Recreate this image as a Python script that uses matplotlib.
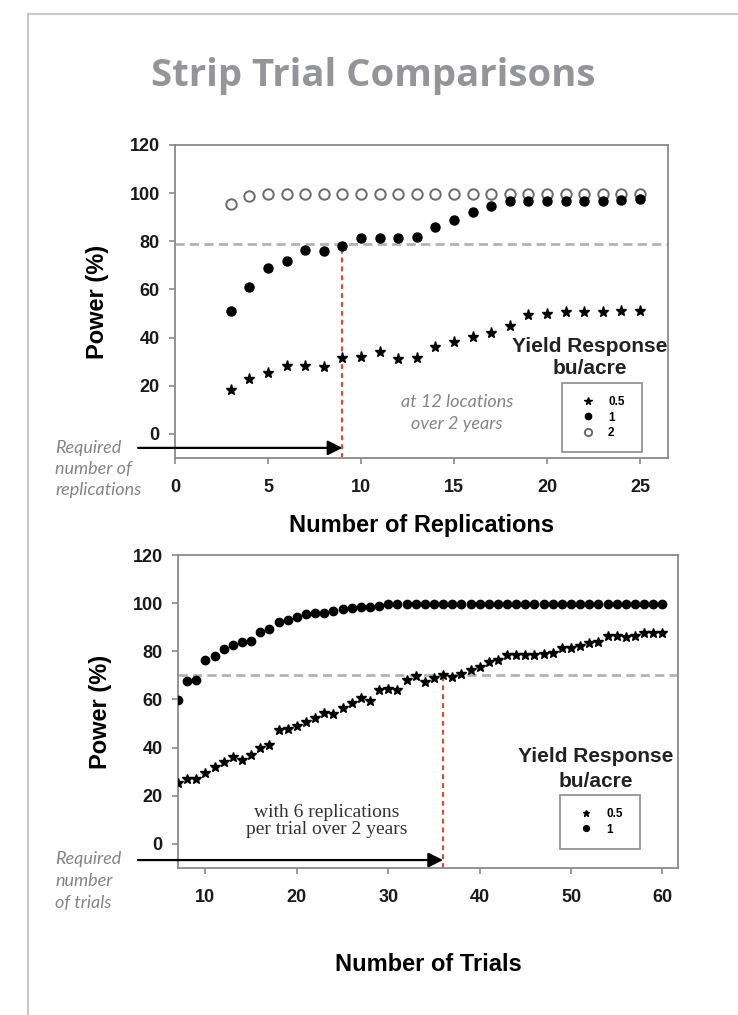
import matplotlib
matplotlib.use("Agg")
import matplotlib.pyplot as plt
from matplotlib.lines import Line2D

# ---------------- data ----------------
reps = list(range(3, 26))
rep_power_05 = [18.3, 22.7, 25.5, 28.2, 28.2, 27.7, 31.4, 31.8, 33.9, 31.0, 31.7,
                36.3, 38.3, 40.1, 41.8, 44.9, 49.4, 49.7, 50.5, 50.5, 50.5, 51.2, 51.2]
rep_power_1 = [51.2, 60.9, 68.8, 72.0, 76.4, 76.1, 78.1, 81.3, 81.3, 81.3, 81.7,
               86.1, 88.9, 92.3, 94.7, 96.8, 96.8, 96.8, 96.8, 96.8, 96.8, 97.3, 97.5]
rep_power_2 = [95.5, 98.8, 99.7, 99.7, 99.7, 99.7, 99.7, 99.7, 99.7, 99.7, 99.7,
               99.7, 99.7, 99.7, 99.7, 99.7, 99.7, 99.7, 99.7, 99.7, 99.7, 99.7, 99.7]
rep_threshold = 79
rep_required = 9

trials = list(range(7, 61))
trial_power_05 = [25.1, 27.0, 27.0, 29.3, 31.8, 33.9, 36.3, 34.9, 37.0, 39.7, 41.1,
                  47.4, 47.8, 48.9, 50.8, 52.2, 54.3, 53.8, 56.5, 58.5, 60.5, 59.3,
                  64.0, 64.3, 64.0, 68.2, 69.6, 67.2, 69.0, 70.3, 69.3, 70.4, 72.4,
                  73.5, 75.6, 76.3, 78.3, 78.3, 78.3, 78.6, 79.0, 79.3, 81.4, 81.4,
                  82.1, 83.5, 83.9, 86.3, 86.3, 86.0, 86.3, 87.4, 87.4, 87.6]
trial_power_1 = [59.6, 67.6, 68.2, 76.5, 77.9, 81.1, 82.8, 83.9, 84.3, 88.0, 89.4,
                 92.2, 93.2, 94.3, 95.4, 96.0, 96.0, 96.7, 97.4, 97.8, 98.2, 98.5,
                 99.0] + [99.6] * 31
trial_threshold = 70
trial_required = 36

yticks = [0, 20, 40, 60, 80, 100, 120]
rep_xticks = [0, 5, 10, 15, 20, 25]
trial_xticks = [10, 20, 30, 40, 50, 60]

# ---------------- figure ----------------
W, H = 738, 1015
fig = plt.figure(figsize=(W / 100, H / 100), dpi=100)
fig.patch.set_facecolor("white")

def fx(px):
    return px / W

def fy(py):
    return 1 - py / H

LABEL_FONT = dict(family="Liberation Sans", weight="bold", size=17)
NOTE_COLOR = "#858585"
SPINE_COLOR = "#8a8a8a"
DASH_COLOR = "#b3b3b3"
RED = "#c4553a"

def style_axes(ax, xticks, xlim):
    ax.set_ylim(-10, 120)
    ax.set_xlim(*xlim)
    ax.set_yticks(yticks)
    ax.set_xticks(xticks)
    for s in ax.spines.values():
        s.set_color(SPINE_COLOR)
        s.set_linewidth(1.3)
    ax.tick_params(axis="both", direction="out", length=4, width=1.2, color=SPINE_COLOR)
    ax.tick_params(axis="y", pad=7)
    ax.tick_params(axis="x", pad=11)
    for lab in ax.get_xticklabels() + ax.get_yticklabels():
        lab.set_fontfamily("Liberation Sans")
        lab.set_fontweight("bold")
        lab.set_fontsize(13)
        lab.set_color("#1a1a1a")

legend_kw = dict(loc="upper left", mode="expand",
                 prop=dict(family="Liberation Sans", weight="bold", size=8.5),
                 frameon=True, fancybox=False, edgecolor="#7a7a7a", borderpad=1.1,
                 labelspacing=0.3, handlelength=2.2, handletextpad=0.6, numpoints=1,
                 markerscale=0.7, borderaxespad=0)

# ---------- top axes ----------
ax1 = fig.add_axes([fx(175), fy(458), fx(668) - fx(175), fy(145) - fy(458)])
style_axes(ax1, rep_xticks, (0, 26.5))
ax1.axhline(rep_threshold, color=DASH_COLOR, lw=2, ls=(0, (3.3, 1.9)), zorder=1)
ax1.plot([rep_required, rep_required], [-10, rep_threshold], color=RED, lw=1.6,
         ls=(0, (2.2, 1.8)), zorder=1)
ax1.plot(reps, rep_power_05, ls="none", marker="*", ms=8, color="black", label="0.5", zorder=3)
ax1.plot(reps, rep_power_1, ls="none", marker="o", ms=6.5, color="black", label="1", zorder=3)
ax1.plot(reps, rep_power_2, ls="none", marker="o", ms=7.5, mfc="white", mec="#6a6a6a",
         mew=1.4, label="2", zorder=2)
ax1.set_ylabel("Power (%)", fontdict=LABEL_FONT, labelpad=15)
ax1.set_xlabel("Number of Replications", fontdict=LABEL_FONT, labelpad=13)
ax1.annotate("", xy=(rep_required, -5.8), xycoords="data",
             xytext=(-0.075, -5.8), textcoords=("axes fraction", "data"),
             arrowprops=dict(arrowstyle="-|>", color="black", lw=1.6,
                             mutation_scale=22, shrinkA=0, shrinkB=0),
             annotation_clip=False)
leg1 = ax1.legend(bbox_to_anchor=(0.785, 0.016, 0.162, 0.2236), **legend_kw)
leg1.get_frame().set_linewidth(1.3)

# ---------- bottom axes ----------
ax2 = fig.add_axes([fx(178), fy(868), fx(678) - fx(178), fy(555) - fy(868)])
style_axes(ax2, trial_xticks, (7, 61.7))
ax2.axhline(trial_threshold, color=DASH_COLOR, lw=2, ls=(0, (3.3, 1.9)), zorder=1)
ax2.plot([trial_required, trial_required], [-10, trial_threshold], color=RED, lw=1.6,
         ls=(0, (2.2, 1.8)), zorder=1)
ax2.plot(trials, trial_power_05, ls="none", marker="*", ms=7, color="black", label="0.5", zorder=3)
ax2.plot(trials, trial_power_1, ls="none", marker="o", ms=6, color="black", label="1", zorder=3)
ax2.set_ylabel("Power (%)", fontdict=LABEL_FONT, labelpad=15)
ax2.set_xlabel("Number of Trials", fontdict=LABEL_FONT, labelpad=34)
ax2.annotate("", xy=(trial_required, -6.7), xycoords="data",
             xytext=(-0.08, -6.7), textcoords=("axes fraction", "data"),
             arrowprops=dict(arrowstyle="-|>", color="black", lw=1.6,
                             mutation_scale=22, shrinkA=0, shrinkB=0),
             annotation_clip=False)
leg2 = ax2.legend(bbox_to_anchor=(0.764, 0.0575, 0.16, 0.1755), **legend_kw)
leg2.get_frame().set_linewidth(1.3)

# ---------- texts ----------
fig.text(fx(373), fy(76), "Strip Trial Comparisons", ha="center", va="center",
         family="Open Sans", weight="bold", size=27.5, color="#939598")

legend_title_font = dict(family="Liberation Sans", weight="bold", size=15, color="#222222")
fig.text(fx(590), fy(358), "Yield Response\nbu/acre", ha="center", va="center",
         linespacing=1.2, **legend_title_font)
fig.text(fx(596), fy(769), "Yield Response\nbu/acre", ha="center", va="center",
         linespacing=1.35, **legend_title_font)

note_font = dict(family="Lato", style="italic", size=13, color=NOTE_COLOR)
fig.text(fx(55), fy(469), "Required\nnumber of\nreplications", ha="left", va="center",
         linespacing=1.4, **note_font)
fig.text(fx(55), fy(881), "Required\nnumber\nof trials", ha="left", va="center",
         linespacing=1.45, **note_font)
fig.text(fx(457), fy(413), "at 12 locations\nover 2 years", ha="center", va="center",
         linespacing=1.4, **note_font)
fig.text(fx(327), fy(821), "with 6 replications\nper trial over 2 years", ha="center",
         va="center", family="Liberation Serif", size=14, color="#333333", linespacing=1.0)

# ---------- page border ----------
fig.add_artist(Line2D([fx(28), 1.0], [fy(14), fy(14)], color="#c8c8c8", lw=1.5))
fig.add_artist(Line2D([fx(28), fx(28)], [fy(14), 0.0], color="#c8c8c8", lw=1.5))

fig.savefig("out.png", dpi=100)
